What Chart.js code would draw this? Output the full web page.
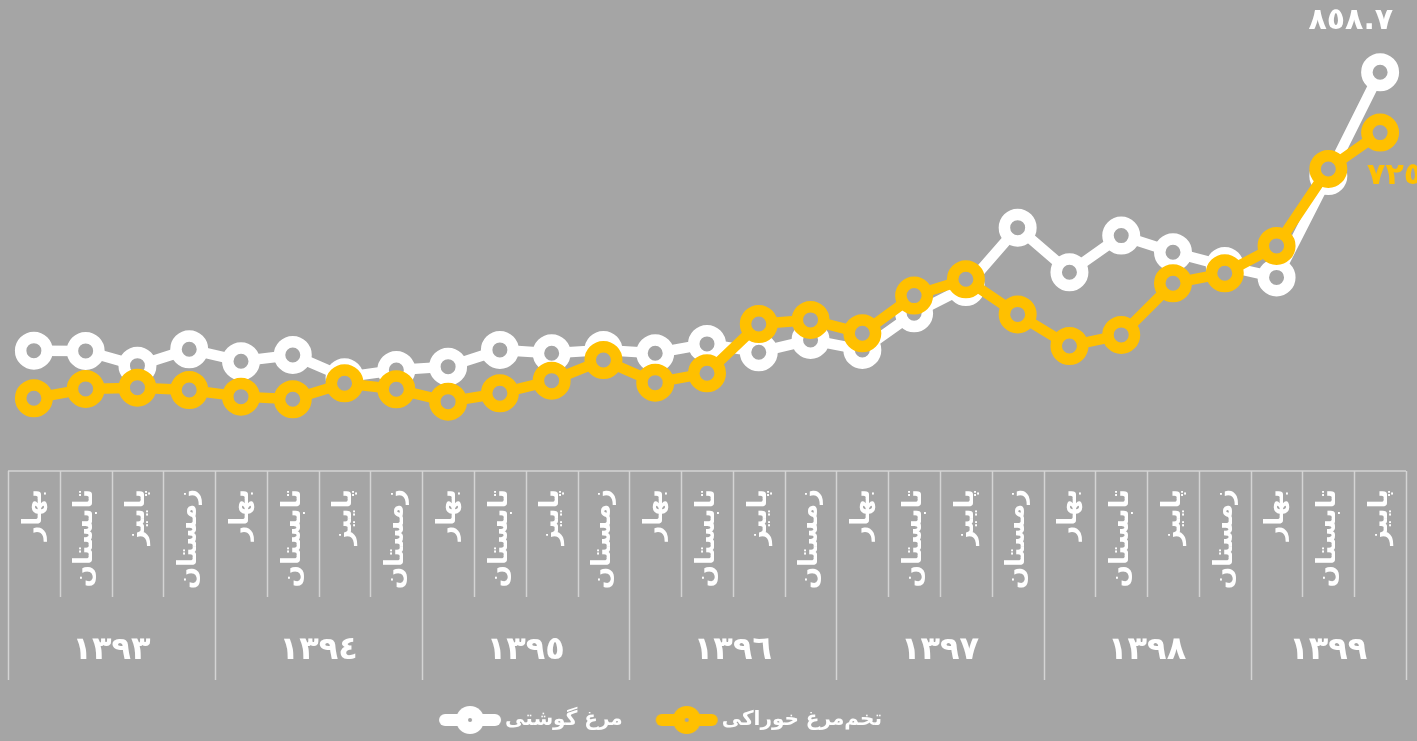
<!DOCTYPE html>
<html>
<head>
<meta charset="utf-8">
<script src="https://cdn.jsdelivr.net/npm/chart.js@4.4.1/dist/chart.umd.min.js"></script>
<style>
  html, body { margin: 0; padding: 0; background: #a5a5a5; }
  #wrap { width: 1417px; height: 741px; position: relative; }
  canvas { display: block; }
</style>
</head>
<body>
<div id="wrap"><canvas id="c" width="1417" height="741"></canvas></div>
<script>
// ---------- DATA ----------
const seasonNames = ['بهار', 'تابستان', 'پاییز', 'زمستان'];
const yearLabels = ['١٣٩٣', '١٣٩٤', '١٣٩٥', '١٣٩٦', '١٣٩٧', '١٣٩٨', '١٣٩٩'];
const seasonsPerYear = [4, 4, 4, 4, 4, 4, 3];
const seriesNames = ['مرغ گوشتی', 'تخم‌مرغ خوراکی'];
const broilerChicken = [242.4, 241.8, 209.2, 245.5, 219.0, 232.9, 183.6, 199.7, 207.0, 244.0, 236.7, 244.0, 236.7, 257.3, 238.9, 266.1, 244.0, 325.2, 383.4, 514.7, 416.0, 497.0, 460.3, 429.9, 404.5, 629.1, 858.7];
const tableEggs = [137.1, 157.7, 160.5, 155.4, 140.6, 134.9, 170.3, 157.0, 129.5, 148.1, 176.0, 221.8, 171.6, 192.4, 301.5, 310.4, 280.9, 364.2, 400.5, 322.6, 252.8, 277.2, 391.6, 413.8, 474.2, 644.6, 725.0];

// category labels built from the lists above
const categories = [];
seasonsPerYear.forEach(cnt => { for (let s = 0; s < cnt; s++) categories.push(seasonNames[s]); });

// ---------- STYLE ----------
const BG = '#a5a5a5';
const WHITE = '#ffffff';
const GOLD = '#ffc000';
const GRID = '#d4d4d4';
const FONT = "'DejaVu Sans', sans-serif";

const toArabicDigits = v => String(v).replace(/\d/g, d => '٠١٢٣٤٥٦٧٨٩'[+d]);

function legendIcon(color) {
  const c = document.createElement('canvas');
  c.width = 64; c.height = 30;
  const g = c.getContext('2d');
  g.strokeStyle = color; g.lineWidth = 12; g.lineCap = 'round';
  g.beginPath(); g.moveTo(7, 15); g.lineTo(57, 15); g.stroke();
  g.fillStyle = color;
  g.beginPath(); g.arc(32, 15, 14, 0, Math.PI * 2); g.fill();
  g.fillStyle = BG;
  g.beginPath(); g.arc(32, 15, 2, 0, Math.PI * 2); g.fill();
  return c;
}

// ---------- PLUGINS ----------
const multiAxisPlugin = {
  id: 'multiAxis',
  afterDraw(chart) {
    const xs = chart.scales.x;
    const ctx = chart.ctx;
    const top = chart.chartArea.bottom;
    const n = categories.length;
    const edge = i => xs.getPixelForValue(i - 0.5);
    const yearBounds = [0];
    seasonsPerYear.forEach(c => yearBounds.push(yearBounds[yearBounds.length - 1] + c));
    ctx.save();
    ctx.strokeStyle = GRID;
    ctx.lineWidth = 1.5;
    ctx.beginPath();
    ctx.moveTo(edge(0), top); ctx.lineTo(edge(n), top);
    for (let i = 0; i <= n; i++) {
      const x = Math.round(edge(i)) + 0.5;
      const full = yearBounds.includes(i);
      ctx.moveTo(x, top);
      ctx.lineTo(x, top + (full ? 209 : 126));
    }
    ctx.stroke();
    ctx.fillStyle = WHITE;
    ctx.font = 'bold 32px ' + FONT;
    ctx.textAlign = 'center';
    ctx.textBaseline = 'middle';
    for (let k = 0; k < yearLabels.length; k++) {
      const cx = (edge(yearBounds[k]) + edge(yearBounds[k + 1])) / 2;
      ctx.fillText(yearLabels[k], cx, top + 180);
    }
    ctx.restore();
  }
};

const lastLabelPlugin = {
  id: 'lastLabel',
  afterDatasetsDraw(chart) {
    const ctx = chart.ctx;
    ctx.save();
    ctx.font = 'bold 30px ' + FONT;
    ctx.textBaseline = 'middle';
    chart.data.datasets.forEach((ds, di) => {
      const meta = chart.getDatasetMeta(di);
      const last = meta.data.length - 1;
      const pt = meta.data[last];
      const txt = toArabicDigits(ds.data[last]);
      ctx.fillStyle = ds.borderColor;
      if (ds.labelPos === 'above') {
        ctx.textAlign = 'right';
        ctx.fillText(txt, pt.x + 13, pt.y - 51);
      } else {
        ctx.textAlign = 'left';
        ctx.fillText(txt, pt.x - 13, pt.y + 44);
      }
    });
    ctx.restore();
  }
};

const legendPlugin = {
  id: 'ringLegend',
  afterDraw(chart) {
    const ctx = chart.ctx;
    const order = [1, 0]; // white series first, as in the reference
    const centerX = 660, y = 720, iconW = 64, gap = 3, itemGap = 32;
    ctx.save();
    ctx.font = 'bold 20px ' + FONT;
    ctx.textBaseline = 'middle';
    ctx.textAlign = 'left';
    const items = order.map(di => {
      const ds = chart.data.datasets[di];
      return { text: ds.label, icon: legendIcon(ds.borderColor), w: ctx.measureText(ds.label).width };
    });
    const total = items.reduce((s, it) => s + iconW + gap + it.w, 0) + itemGap * (items.length - 1);
    let x = centerX - total / 2;
    items.forEach(it => {
      ctx.drawImage(it.icon, x, y - it.icon.height / 2);
      x += iconW + gap;
      ctx.fillStyle = WHITE;
      ctx.fillText(it.text, x, y);
      x += it.w + itemGap;
    });
    ctx.restore();
  }
};

// ---------- CHART ----------
const ringStyle = color => ({
  borderColor: color,
  backgroundColor: color,
  borderWidth: 10.5,
  pointRadius: 13.25,
  pointHoverRadius: 13.25,
  pointBorderWidth: 11.5,
  pointHoverBorderWidth: 11.5,
  pointBackgroundColor: BG,
  pointBorderColor: color,
  tension: 0,
  fill: false
});

new Chart(document.getElementById('c'), {
  type: 'line',
  data: {
    labels: categories,
    datasets: [
      Object.assign({ label: seriesNames[1], data: tableEggs, labelPos: 'below' }, ringStyle(GOLD)),
      Object.assign({ label: seriesNames[0], data: broilerChicken, labelPos: 'above' }, ringStyle(WHITE))
    ]
  },
  options: {
    responsive: false,
    animation: false,
    events: [],
    layout: { padding: { left: 8, right: 11, top: 40, bottom: 70 }, autoPadding: false },
    scales: {
      x: {
        offset: true,
        grid: { display: false, drawTicks: false },
        border: { display: false },
        ticks: {
          color: WHITE,
          font: { family: FONT, size: 26, weight: 'bold' },
          minRotation: 90,
          maxRotation: 90,
          autoSkip: false,
          padding: 18
        },
        afterFit(scale) {
          scale.height = 200;
          scale.paddingLeft = 0;
          scale.paddingRight = 0;
        }
      },
      y: { display: false, min: -24, max: 930 }
    },
    plugins: {
      legend: { display: false },
      tooltip: { enabled: false },
      title: { display: false }
    }
  },
  plugins: [multiAxisPlugin, lastLabelPlugin, legendPlugin]
});
</script>
</body>
</html>
